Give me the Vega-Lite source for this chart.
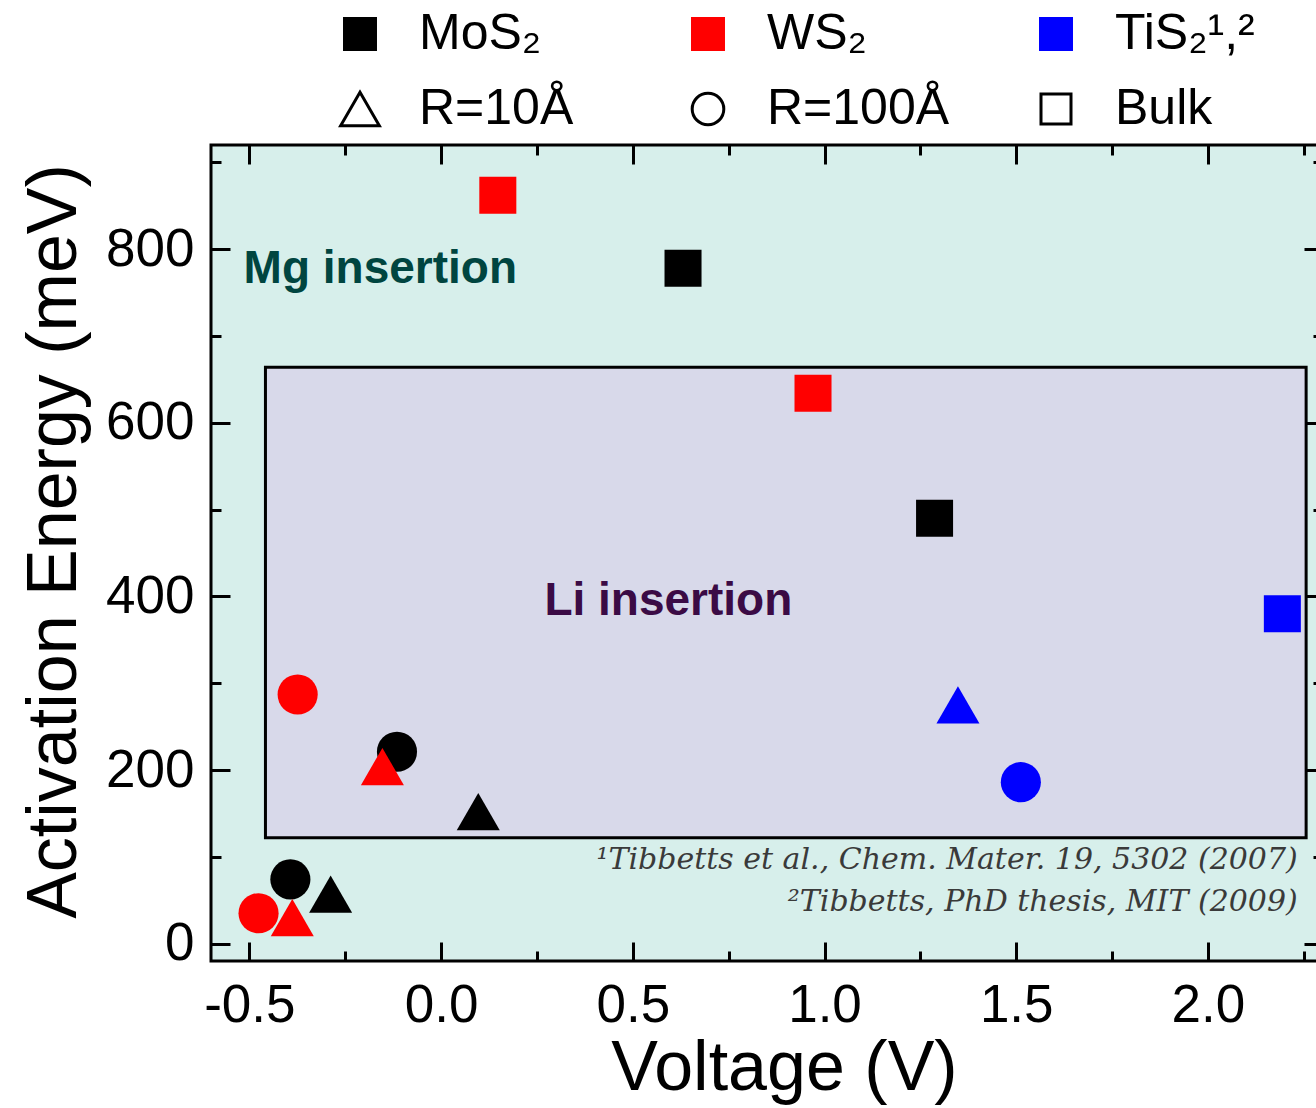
{
  "$schema": "https://vega.github.io/schema/vega-lite/v6.json",
  "width": 1112,
  "height": 816,
  "autosize": "none",
  "padding": {"left": 211, "top": 145, "right": 0, "bottom": 147},
  "background": "white",
  "view": {"fill": "#d7efeb", "stroke": "#000000", "strokeWidth": 3},
  "config": {
    "view": {"fill": "#d7efeb", "stroke": "#000000", "strokeWidth": 3},
    "font": "Liberation Sans",
    "axis": {
      "domain": false,
      "grid": false,
      "tickColor": "#000000",
      "tickWidth": 3,
      "labelFont": "Liberation Sans",
      "labelFontSize": 53,
      "labelColor": "#000000",
      "titleFont": "Liberation Sans",
      "titleFontSize": 70,
      "titleFontWeight": "normal",
      "titleColor": "#000000"
    }
  },
  "datasets": {
    "liBox": [{"x1": -0.458, "x2": 2.256, "y1": 122, "y2": 664}],
    "mgLabel": [{"label": "Mg insertion", "v": -0.515, "e": 760.5}],
    "liLabel": [{"label": "Li insertion", "v": 0.2695, "e": 378.3}],
    "refs": [
      {"label": "¹Tibbetts et al., Chem. Mater. 19, 5302 (2007)", "v": 2.234, "e": 96},
      {"label": "²Tibbetts, PhD thesis, MIT (2009)", "v": 2.234, "e": 47.7}
    ],
    "points": [
      {"material": "MoS₂", "type": "Bulk", "ion": "Mg", "voltage": 0.631, "energy": 778},
      {"material": "WS₂", "type": "Bulk", "ion": "Mg", "voltage": 0.148, "energy": 862},
      {"material": "MoS₂", "type": "Bulk", "ion": "Li", "voltage": 1.287, "energy": 490},
      {"material": "WS₂", "type": "Bulk", "ion": "Li", "voltage": 0.970, "energy": 634},
      {"material": "TiS₂", "type": "Bulk", "ion": "Li", "voltage": 2.194, "energy": 380},
      {"material": "MoS₂", "type": "R=100Å", "ion": "Li", "voltage": -0.115, "energy": 221},
      {"material": "WS₂", "type": "R=100Å", "ion": "Li", "voltage": -0.374, "energy": 287},
      {"material": "TiS₂", "type": "R=100Å", "ion": "Li", "voltage": 1.512, "energy": 186},
      {"material": "MoS₂", "type": "R=100Å", "ion": "Mg", "voltage": -0.393, "energy": 74},
      {"material": "WS₂", "type": "R=100Å", "ion": "Mg", "voltage": -0.476, "energy": 35},
      {"material": "MoS₂", "type": "R=10Å", "ion": "Li", "voltage": 0.097, "energy": 152},
      {"material": "WS₂", "type": "R=10Å", "ion": "Li", "voltage": -0.153, "energy": 204},
      {"material": "TiS₂", "type": "R=10Å", "ion": "Li", "voltage": 1.348, "energy": 275},
      {"material": "MoS₂", "type": "R=10Å", "ion": "Mg", "voltage": -0.288, "energy": 57},
      {"material": "WS₂", "type": "R=10Å", "ion": "Mg", "voltage": -0.388, "energy": 30}
    ],
    "legendKeys": [
      {"key": "MoS₂"}, {"key": "WS₂"}, {"key": "TiS₂"},
      {"key": "R=10Å"}, {"key": "R=100Å"}, {"key": "Bulk"}
    ]
  },
  "layer": [
    {
      "data": {"name": "liBox"},
      "mark": {"type": "rect", "fill": "#d8d9ea", "stroke": "#000000", "strokeWidth": 3},
      "encoding": {
        "x": {"field": "x1", "type": "quantitative",
          "scale": {"domain": [-0.6, 2.3], "nice": false, "zero": false},
          "axis": {"orient": "top", "values": [-0.5, 0, 0.5, 1, 1.5, 2], "tickSize": -19, "labels": false, "title": null}},
        "x2": {"field": "x2"},
        "y": {"field": "y1", "type": "quantitative",
          "scale": {"domain": [-20, 920], "nice": false, "zero": false},
          "axis": {"orient": "right", "values": [0, 200, 400, 600, 800], "tickSize": -19, "labels": false, "title": null}},
        "y2": {"field": "y2"}
      }
    },
    {
      "data": {"name": "mgLabel"},
      "mark": {"type": "text", "font": "Liberation Sans", "fontSize": 46, "fontWeight": "bold", "color": "#004540", "align": "left", "baseline": "alphabetic"},
      "encoding": {
        "x": {"field": "v", "type": "quantitative",
          "scale": {"domain": [-0.6, 2.3], "nice": false, "zero": false},
          "axis": {"orient": "top", "values": [-0.25, 0.25, 0.75, 1.25, 1.75, 2.25], "tickSize": -10, "labels": false, "title": null}},
        "y": {"field": "e", "type": "quantitative",
          "scale": {"domain": [-20, 920], "nice": false, "zero": false},
          "axis": {"orient": "right", "values": [100, 300, 500, 700, 900], "tickSize": -10, "labels": false, "title": null}},
        "text": {"field": "label"}
      }
    },
    {
      "data": {"name": "refs"},
      "mark": {"type": "text", "font": "DejaVu Serif", "fontSize": 30, "fontStyle": "italic", "color": "#3a3a3a", "align": "right", "baseline": "middle"},
      "encoding": {
        "x": {"field": "v", "type": "quantitative",
          "scale": {"domain": [-0.6, 2.3], "nice": false, "zero": false},
          "axis": {"orient": "bottom", "values": [-0.25, 0.25, 0.75, 1.25, 1.75, 2.25], "tickSize": -10, "labels": false, "title": null}},
        "y": {"field": "e", "type": "quantitative",
          "scale": {"domain": [-20, 920], "nice": false, "zero": false},
          "axis": {"orient": "left", "values": [100, 300, 500, 700, 900], "tickSize": -10, "labels": false, "title": null}},
        "text": {"field": "label"}
      }
    },
    {
      "data": {"name": "liLabel"},
      "mark": {"type": "text", "font": "Liberation Sans", "fontSize": 46, "fontWeight": "bold", "color": "#3b0b45", "align": "left", "baseline": "alphabetic"},
      "encoding": {
        "x": {"field": "v", "type": "quantitative",
          "scale": {"domain": [-0.6, 2.3], "nice": false, "zero": false},
          "axis": {"orient": "bottom", "values": [-0.5, 0, 0.5, 1, 1.5, 2], "tickSize": -19, "labelPadding": 37,
            "labelExpr": "replace(format(datum.value, '.1f'), '−', '-')",
            "title": "Voltage (V)", "titlePadding": 2, "titleX": 573}},
        "y": {"field": "e", "type": "quantitative",
          "scale": {"domain": [-20, 920], "nice": false, "zero": false},
          "axis": {"orient": "left", "values": [0, 200, 400, 600, 800], "tickSize": -19, "labelPadding": 36,
            "labelExpr": "format(datum.value, 'd')",
            "title": "Activation Energy (meV)", "titlePadding": 15, "titleY": 396}},
        "text": {"field": "label"}
      }
    },
    {
      "data": {"name": "legendKeys"},
      "transform": [{"filter": "false"}],
      "mark": {"type": "point", "opacity": 1, "strokeWidth": 3},
      "encoding": {
        "fill": {"field": "key", "type": "nominal",
          "scale": {"domain": ["MoS₂", "WS₂", "TiS₂", "R=10Å", "R=100Å", "Bulk"], "range": ["#000000", "#ff0000", "#0000ff", "transparent", "transparent", "transparent"]},
          "legend": {
            "orient": "none", "legendX": 124, "legendY": -136,
            "direction": "horizontal", "columns": 3, "gridAlign": "all",
            "columnPadding": 81, "rowPadding": 25,
            "title": null, "labelFont": "Liberation Sans", "labelFontSize": 50, "labelColor": "#000000",
            "labelOffset": 34, "labelLimit": 400, "symbolStrokeWidth": 3, "symbolSize": 1000, "symbolOpacity": 1,
            "labelExpr": "datum.value === 'TiS₂' ? 'TiS₂¹,²' : datum.label",
            "encode": {"symbols": {"update": {"size": {"signal": "datum.value === 'R=10Å' ? 1500 : datum.value === 'R=100Å' ? 1000 : datum.value === 'Bulk' ? 900 : 960"}}}}
          }},
        "stroke": {"field": "key", "type": "nominal",
          "scale": {"domain": ["MoS₂", "WS₂", "TiS₂", "R=10Å", "R=100Å", "Bulk"], "range": ["#000000", "#ff0000", "#0000ff", "#000000", "#000000", "#000000"]}},
        "shape": {"field": "key", "type": "nominal",
          "scale": {"domain": ["MoS₂", "WS₂", "TiS₂", "R=10Å", "R=100Å", "Bulk"], "range": ["square", "square", "square", "triangle-up", "circle", "square"]}}
      }
    },
    {
      "data": {"name": "points"},
      "mark": {"type": "point", "filled": true, "opacity": 1, "strokeWidth": 0},
      "encoding": {
        "x": {"field": "voltage", "type": "quantitative", "scale": {"domain": [-0.6, 2.3], "nice": false, "zero": false}, "axis": null},
        "y": {"field": "energy", "type": "quantitative", "scale": {"domain": [-20, 920], "nice": false, "zero": false}, "axis": null},
        "fill": {"field": "material", "type": "nominal",
          "scale": {"domain": ["MoS₂", "WS₂", "TiS₂", "R=10Å", "R=100Å", "Bulk"], "range": ["#000000", "#ff0000", "#0000ff", "transparent", "transparent", "transparent"]}},
        "shape": {"field": "type", "type": "nominal",
          "scale": {"domain": ["MoS₂", "WS₂", "TiS₂", "R=10Å", "R=100Å", "Bulk"], "range": ["square", "square", "square", "triangle-up", "circle", "square"]}},
        "size": {"field": "type", "type": "nominal",
          "scale": {"domain": ["R=10Å", "R=100Å", "Bulk"], "range": [1850, 1370, 1090]},
          "legend": null}
      }
    }
  ],
  "resolve": {"axis": {"x": "independent", "y": "independent"}}
}
